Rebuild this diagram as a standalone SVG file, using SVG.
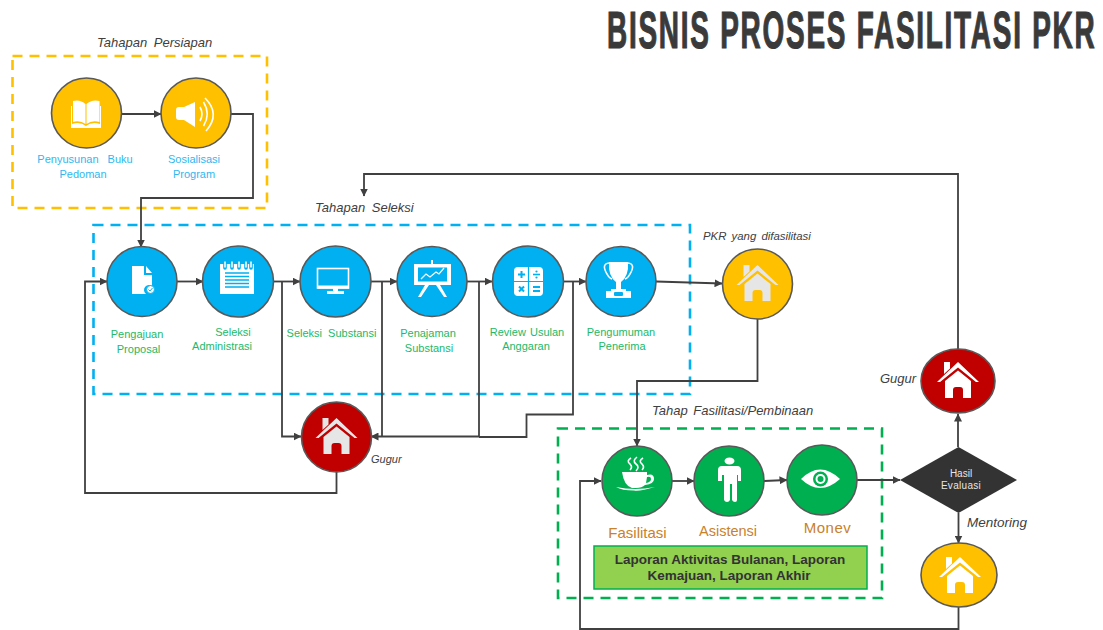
<svg xmlns="http://www.w3.org/2000/svg" width="1103" height="630" viewBox="0 0 1103 630">
<style>
text{font-family:"Liberation Sans",Arial,sans-serif}
.t{text-anchor:middle;font-size:11px}
.b{fill:#2fb8f0}.g{fill:#22b968}
.i{font-style:italic;fill:#404040;font-size:13px}
.o{fill:#c9812a;font-size:15px;text-anchor:middle}
.n{stroke:#595959;stroke-width:1.6}
.bl{fill:#00b0f0}.ye{fill:#ffc000}.gr{fill:#00b050}.re{fill:#c00000}
.box{fill:none;stroke-width:2.6;stroke-dasharray:10 7}
.c{fill:none;stroke:#404040;stroke-width:1.8;stroke-linejoin:miter}
.a{marker-end:url(#arr)}
.w{fill:#fff}
.wl{fill:none;stroke:#fff;stroke-width:1.6}
</style>
<defs>
<marker id="arr" viewBox="0 0 8 8" refX="7.5" refY="4" markerWidth="8" markerHeight="8" markerUnits="userSpaceOnUse" orient="auto"><path d="M0 0L8 4L0 8Z" fill="#404040"/></marker>
<symbol id="house" viewBox="-22 -22 44 44" width="44" height="44" overflow="visible">
<path d="M-21-1L0-21L21-1L18-1L0-15.500L-18-1Z"/>
<path d="M0-12.500L13-2V15H5V7Q5 4 2 4H-2Q-5 4-5 7V15H-13V-2Z"/>
<path d="M-14-21H-8V-14.500L-14-9Z"/>
</symbol>
</defs>

<text id="title" transform="translate(607 48) scale(.548 1)" x="0" y="0" font-size="51" font-weight="700" fill="#3a3a3a" letter-spacing="3.200" stroke="#3a3a3a" stroke-width="1.200">BISNIS PROSES FASILITASI PKR</text>

<g id="frames">
<rect class="box" x="12.500" y="56" width="254.500" height="152" stroke="#ffc000"/>
<rect class="box" x="93.500" y="225" width="596.500" height="169" stroke="#00b0f0"/>
<rect class="box" x="558" y="428.500" width="324" height="169.500" stroke="#00b050"/>
</g>

<g id="connectors">
<path class="c a" d="M121 114H161"/>
<path class="c a" d="M231 114H253V198H141V247"/>
<path class="c a" d="M177 281.500H203"/>
<path class="c a" d="M273 281.500H300"/>
<path class="c a" d="M371 281.500H397"/>
<path class="c a" d="M467 281.500H492"/>
<path class="c a" d="M564 281.500H586"/>
<path class="c a" d="M656 281.500L722 283.500"/>
<path class="c a" d="M282 281.500V436.500H301"/>
<path class="c" d="M382 281.500V436.500"/>
<path class="c" d="M479 281.500V436.500"/>
<path class="c" d="M573 281.500V414.500H526.500V437H479"/>
<path class="c a" d="M479 436.500H371"/>
<path class="c a" d="M336.500 472V493H85V281.500H107"/>
<path class="c a" d="M757.500 319V381H637V446"/>
<path class="c a" d="M672 481H694"/>
<path class="c a" d="M764 481L787 480"/>
<path class="c a" d="M857 480H900"/>
<path class="c a" d="M958 447V414"/>
<path class="c a" d="M958 349V174H364V196"/>
<path class="c a" d="M958.500 513V543"/>
<path class="c a" d="M958.500 607V629H580V481H601"/>
</g>

<g id="node-buku">
<circle class="n ye" cx="86.500" cy="113" r="35"/>
<path class="w" d="M73 101Q80 99 85.500 104V124Q80 120 73 122ZM99.500 101Q92 99 86.500 104V124Q92 120 99.500 122Z"/>
<path class="w" d="M71 106H72V124Q80 121 86 126Q92 121 100 124V106H101V128H71Z"/>
<text class="t b"><tspan x="85" y="163" word-spacing="6">Penyusunan Buku</tspan><tspan x="83" y="178">Pedoman</tspan></text>
</g>
<g id="node-sosialisasi">
<circle class="n ye" cx="196" cy="113" r="35"/>
<path class="w" d="M176 110Q176 107 179 107H184L195 102V127L184 120H179Q176 120 176 117Z"/>
<path class="wl" d="M200 107Q204 114 200 121" stroke-width="2"/>
<path class="wl" d="M203.500 102Q211 114 203.500 126" stroke-width="2"/>
<path class="wl" d="M205 98Q221 114 206 131" stroke-width="2"/>
<text class="t b"><tspan x="194" y="163">Sosialisasi</tspan><tspan x="194" y="178">Program</tspan></text>
</g>
<text class="i" x="97" y="47" word-spacing="3">Tahapan Persiapan</text>
<text class="i" x="315" y="212" word-spacing="3">Tahapan Seleksi</text>

<g id="node-pengajuan">
<circle class="n bl" cx="142" cy="281.500" r="35"/>
<path class="w" d="M132 266H144V275H152V286A5 5 0 0 0 146 294H132ZM146 266L152 273H146Z"/>
<circle cx="150.500" cy="289.500" r="4" fill="#fff" stroke="#00b0f0"/>
<path d="M148.500 289.500L150 291L152.500 288" fill="none" stroke="#00b0f0"/>
<text class="t g"><tspan x="137" y="338">Pengajuan</tspan><tspan x="138.500" y="353">Proposal</tspan></text>
</g>
<g id="node-seleksi-adm">
<circle class="n bl" cx="238" cy="281.500" r="35.500"/>
<path class="w" d="M220 264H254V294H220Z"/>
<path d="M225 273H249M225 276.500H249M225 280H249M225 283.500H249M225 287H249" stroke="#00b0f0" stroke-width="1.300"/>
<path d="M225 262V268M232 262V268M239 262V268M246 262V268M251 262V268" stroke="#00b0f0" stroke-width="3.600" stroke-linecap="round"/>
<path d="M225 262V267M232 262V267M239 262V267M246 262V267M251 262V267" stroke="#fff" stroke-width="1.500" stroke-linecap="round"/>
<text class="t g"><tspan x="233" y="336">Seleksi</tspan><tspan x="222" y="350">Administrasi</tspan></text>
</g>
<g id="node-seleksi-sub">
<circle class="n bl" cx="335.500" cy="281.500" r="35.500"/>
<rect class="wl" x="317.500" y="268.500" width="31" height="19.500" stroke-width="1.400"/>
<path class="w" d="M317 285.500H349V288.500H317ZM333 288H338V291H344V294H327V291H333Z"/>
<text class="t g" x="331.500" y="337" word-spacing="3">Seleksi Substansi</text>
</g>
<g id="node-penajaman">
<circle class="n bl" cx="432" cy="281.500" r="35"/>
<path class="w" d="M414 264H431V260H433V264H451V285H414Z"/>
<rect x="418" y="267.500" width="29" height="14" fill="#00b0f0"/>
<path d="M421 279L426 274L430 277L436 272L439 274L444 268" fill="none" stroke="#fff" stroke-width="1.200"/>
<path class="w" d="M425 285H429L421 297H418ZM440 285H436L444 297H447Z"/>
<text class="t g"><tspan x="428" y="337">Penajaman</tspan><tspan x="429" y="352">Substansi</tspan></text>
</g>
<g id="node-review">
<circle class="n bl" cx="528" cy="281.500" r="35.500"/>
<rect class="w" x="514" y="267" width="29" height="29" rx="4"/>
<path d="M528.500 267V296M514 281.500H543" stroke="#00b0f0" stroke-width="1.200"/>
<path d="M518 274.500H525M521.500 271V278M519 286.500L524 291.500M524 286.500L519 291.500" stroke="#00b0f0" stroke-width="2"/>
<path d="M533 274.500H540" stroke="#00b0f0" stroke-width="1.600"/>
<circle cx="536.500" cy="271.500" r="1.100" fill="#00b0f0"/><circle cx="536.500" cy="277.500" r="1.100" fill="#00b0f0"/>
<path d="M533 287H540M533 291H540" stroke="#00b0f0" stroke-width="2"/>
<text class="t g"><tspan x="527" y="336" word-spacing="1">Review Usulan</tspan><tspan x="526" y="350">Anggaran</tspan></text>
</g>
<g id="node-pengumuman">
<circle class="n bl" cx="621" cy="281.500" r="35"/>
<path class="w" d="M609 262H628Q629 276 621 282V289H626V291H631V298H606V291H611V289H616V282Q608 276 609 262Z"/>
<path d="M609 263Q601 264 607 274Q609 278 612 279M628 263Q636 264 630 274Q628 278 625 279" fill="none" stroke="#fff" stroke-width="1.600"/>
<rect x="614" y="292" width="9" height="4" rx="1" fill="#00b0f0"/>
<text class="t g"><tspan x="621" y="336">Pengumuman</tspan><tspan x="622" y="350">Penerima</tspan></text>
</g>

<g id="node-pkr">
<circle class="n ye" cx="757.500" cy="284" r="35"/>
<use href="#house" x="735.500" y="264" fill="#e7e6e6"/>
<text class="i" x="703" y="240" style="font-size:11.400px" word-spacing="2">PKR yang difasilitasi</text>
</g>
<g id="node-gugur1">
<circle class="n re" cx="336.500" cy="437" r="35"/>
<use href="#house" x="314.500" y="417" fill="#e7e6e6"/>
<text class="i" x="371" y="463" style="font-size:11px">Gugur</text>
</g>

<text class="i" x="652" y="415" word-spacing="2">Tahap Fasilitasi/Pembinaan</text>
<g id="node-fasilitasi">
<circle class="n gr" cx="637" cy="481" r="35"/>
<path class="w" d="M622 472H647V475Q654 473 654 479Q654 484 645 485Q642 488 636 488H632Q624 486 622 472ZM647 477L646 483Q651 482 651 479Q651 476 647 477Z"/>
<path class="w" d="M616 487Q635 491 655 487Q640 491.500 634 490.500Q622 490.500 616 487Z"/>
<path class="wl" d="M631 458Q626 461 630 464Q633 467 630 470M637 457Q632 461 636 464Q640 467 636 471M643 458Q638 461 642 464Q645 467 642 470" stroke-width="1.300"/>
<text class="o" x="637.500" y="538">Fasilitasi</text>
</g>
<g id="node-asistensi">
<circle class="n gr" cx="729" cy="481" r="35"/>
<ellipse class="w" cx="729.500" cy="461" rx="5" ry="3.500"/>
<path class="w" d="M722 466H737Q741 466 741 470V481H738V475H737V500Q737 502 735 502Q733 502 732 500V484H730V500Q729 502 727 502Q725 502 724 500V475H722V481H718V470Q718 466 722 466Z"/>
<text class="o" x="728" y="536" style="font-size:14.500px">Asistensi</text>
</g>
<g id="node-monev">
<circle class="n gr" cx="822" cy="480" r="35"/>
<path class="w" d="M801 479Q820 460 840 479Q820 497 801 479Z"/>
<circle cx="820.500" cy="479" r="7.500" fill="#00b050"/>
<circle cx="820.500" cy="479" r="5" fill="#fff"/>
<circle cx="820.500" cy="479" r="3" fill="#00b050"/>
<text class="o" x="827.500" y="533" letter-spacing=".5">Monev</text>
</g>
<g id="node-laporan">
<rect x="594" y="546" width="273" height="43" fill="#92d050" stroke="#00b050" stroke-width="1.500"/>
<text x="730" text-anchor="middle" font-size="13.500" font-weight="700" fill="#333"><tspan x="730" y="564">Laporan Aktivitas Bulanan, Laporan</tspan><tspan x="729" y="580">Kemajuan, Laporan Akhir</tspan></text>
</g>

<g id="node-gugur2">
<ellipse class="n re" cx="958" cy="381" rx="37" ry="32"/>
<use href="#house" x="936" y="361" fill="#fff"/>
<text class="i" x="880" y="383">Gugur</text>
</g>
<g id="node-hasil">
<path d="M900 480L958.500 447L1017 480L958.500 513Z" fill="#333"/>
<text fill="#e7e6e6" font-size="10" text-anchor="middle"><tspan x="961" y="477">Hasil</tspan><tspan x="961" y="489" letter-spacing=".3">Evaluasi</tspan></text>
</g>
<text class="i" x="967" y="527" style="font-size:13.500px">Mentoring</text>
<g id="node-mentoring">
<ellipse class="n ye" cx="959" cy="575" rx="38" ry="32"/>
<use href="#house" x="938" y="556" fill="#fff"/>
</g>
</svg>
